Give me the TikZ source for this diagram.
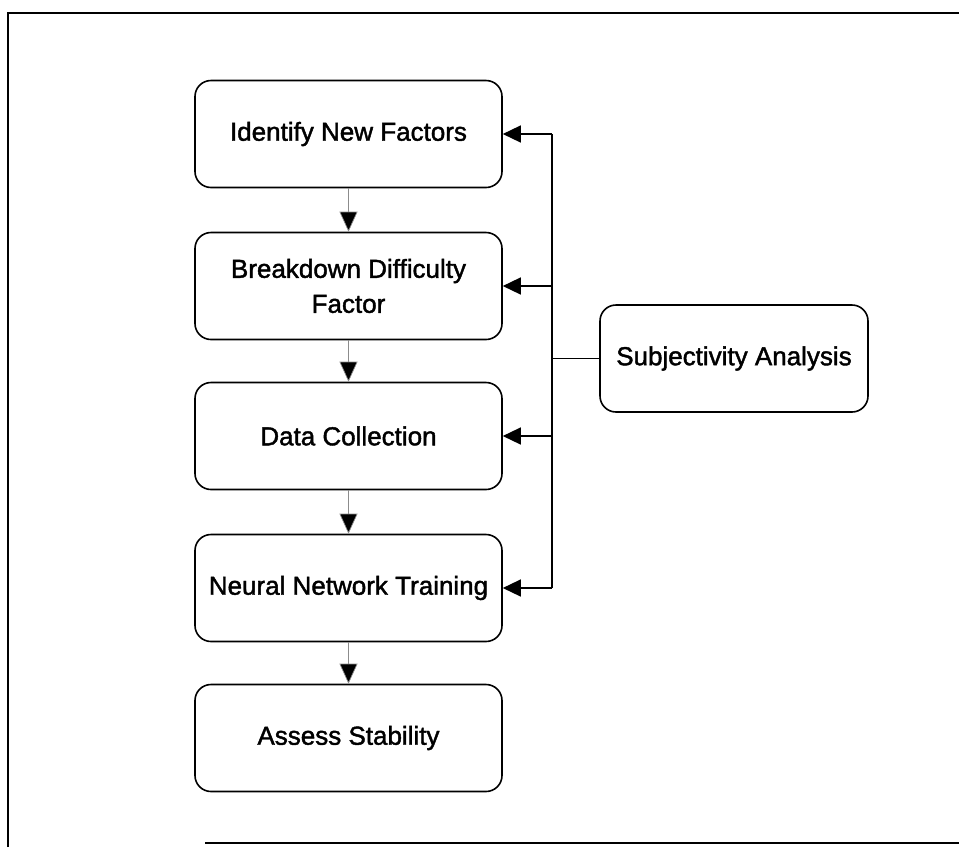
\documentclass[tikz,border=0pt]{standalone}
\usepackage{fontspec}
\setmainfont{Liberation Sans}[FakeBold=1.6]
\usetikzlibrary{arrows.meta}
\begin{document}
\begin{tikzpicture}[x=1pt,y=-1pt,
  stepbox/.style={draw, line width=1.6pt, rounded corners=16pt,
    minimum width=307pt, minimum height=107pt, align=center,
    font=\fontsize{26}{35}\selectfont, inner sep=0pt},
  flow/.style={draw=black!45, line width=0.7pt,
    -{Triangle[length=20pt,width=18pt,fill=black]}},
  feed/.style={line width=1.4pt, -{Triangle[length=18pt,width=17pt]}},
  link/.style={line width=1.1pt},
  frame/.style={line width=2.6pt}]
\useasboundingbox (0,0) rectangle (959,847);

% outer frame
\draw[frame] (8,847) -- (8,13) -- (959,13);
\draw[frame] (205,843) -- (959,843);

% process steps
\node[stepbox] (identify)  at (348.5,134) {Identify New Factors};
\node[stepbox] (breakdown) at (348.5,286) {Breakdown Difficulty\\Factor};
\node[stepbox] (data)      at (348.5,436) {Data Collection};
\node[stepbox] (neural)    at (348.5,588) {Neural Network Training};
\node[stepbox] (assess)    at (348.5,738) {Assess Stability};

% side input
\node[stepbox, minimum width=268pt] (subj) at (734,358.5) {Subjectivity Analysis};

% main flow
\draw[flow] (identify)  -- (breakdown);
\draw[flow] (breakdown) -- (data);
\draw[flow] (data)      -- (neural);
\draw[flow] (neural)    -- (assess);

% feedback bus from the subjectivity analysis
\coordinate (bus) at (552,358.5);
\draw[link] (subj.west) -- (bus);
\draw[link] (bus |- identify.east) -- (bus |- neural.east);
\draw[feed] (bus |- identify.east)  -- (identify.east);
\draw[feed] (bus |- breakdown.east) -- (breakdown.east);
\draw[feed] (bus |- data.east)      -- (data.east);
\draw[feed] (bus |- neural.east)    -- (neural.east);
\end{tikzpicture}
\end{document}
